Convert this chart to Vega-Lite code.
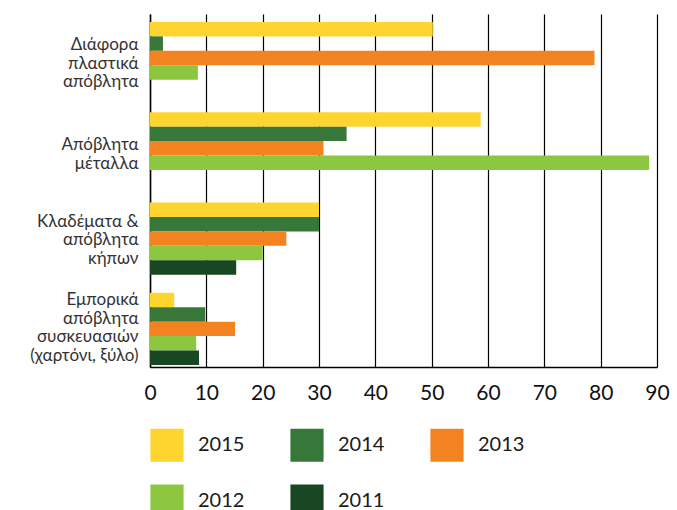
{
  "$schema": "https://vega.github.io/schema/vega-lite/v6.json",
  "width": 507,
  "height": 353,
  "autosize": "none",
  "padding": {"left": 150, "top": 14, "right": 20, "bottom": 143},
  "background": "white",
  "config": {"view": {"stroke": null}, "font": "Lato"},
  "data": {"values": [
    {"category": "Διάφορα πλαστικά απόβλητα", "year": "2015", "value": 50.2},
    {"category": "Διάφορα πλαστικά απόβλητα", "year": "2014", "value": 2.3},
    {"category": "Διάφορα πλαστικά απόβλητα", "year": "2013", "value": 78.9},
    {"category": "Διάφορα πλαστικά απόβλητα", "year": "2012", "value": 8.5},
    {"category": "Απόβλητα μέταλλα", "year": "2015", "value": 58.7},
    {"category": "Απόβλητα μέταλλα", "year": "2014", "value": 34.9},
    {"category": "Απόβλητα μέταλλα", "year": "2013", "value": 30.8},
    {"category": "Απόβλητα μέταλλα", "year": "2012", "value": 88.6},
    {"category": "Κλαδέματα & απόβλητα κήπων", "year": "2015", "value": 30.0},
    {"category": "Κλαδέματα & απόβλητα κήπων", "year": "2014", "value": 30.0},
    {"category": "Κλαδέματα & απόβλητα κήπων", "year": "2013", "value": 24.2},
    {"category": "Κλαδέματα & απόβλητα κήπων", "year": "2012", "value": 20.0},
    {"category": "Κλαδέματα & απόβλητα κήπων", "year": "2011", "value": 15.3},
    {"category": "Εμπορικά απόβλητα συσκευασιών (χαρτόνι, ξύλο)", "year": "2015", "value": 4.3},
    {"category": "Εμπορικά απόβλητα συσκευασιών (χαρτόνι, ξύλο)", "year": "2014", "value": 9.8},
    {"category": "Εμπορικά απόβλητα συσκευασιών (χαρτόνι, ξύλο)", "year": "2013", "value": 15.1},
    {"category": "Εμπορικά απόβλητα συσκευασιών (χαρτόνι, ξύλο)", "year": "2012", "value": 8.2},
    {"category": "Εμπορικά απόβλητα συσκευασιών (χαρτόνι, ξύλο)", "year": "2011", "value": 8.7}
  ]},
  "mark": {"type": "bar"},
  "encoding": {
    "y": {
      "field": "category",
      "type": "nominal",
      "sort": null,
      "scale": {"paddingInner": 0.2, "paddingOuter": 0.055, "align": 0.8},
      "axis": {
        "title": null,
        "labelExpr": "datum.value == 'Διάφορα πλαστικά απόβλητα' ? ['Διάφορα','πλαστικά','απόβλητα'] : datum.value == 'Απόβλητα μέταλλα' ? ['Απόβλητα','μέταλλα '] : datum.value == 'Κλαδέματα & απόβλητα κήπων' ? ['Κλαδέματα &','απόβλητα','κήπων'] : ['Εμπορικά','απόβλητα','συσκευασιών','(χαρτόνι, ξύλο)']",
        "labelOffset": {
          "condition": [
            {"test": "datum.value == 'Διάφορα πλαστικά απόβλητα'", "value": -13},
            {"test": "datum.value == 'Απόβλητα μέταλλα'", "value": -3},
            {"test": "datum.value == 'Κλαδέματα & απόβλητα κήπων'", "value": -17}
          ],
          "value": -29
        },
        "labelFontSize": 17,
        "labelColor": "#333333",
        "labelLineHeight": 18.7,
        "labelPadding": 12,
        "labelLimit": 200,
        "labelOverlap": false,
        "ticks": false,
        "domain": true,
        "domainColor": "#000000",
        "domainWidth": 1.5
      }
    },
    "yOffset": {
      "field": "year",
      "type": "nominal",
      "sort": ["2015", "2014", "2013", "2012", "2011"],
      "scale": {"domain": ["2015", "2014", "2013", "2012", "2011"], "paddingInner": 0, "paddingOuter": 0}
    },
    "x": {
      "field": "value",
      "type": "quantitative",
      "scale": {"domain": [0, 90], "nice": false},
      "axis": {
        "title": null,
        "values": [0, 10, 20, 30, 40, 50, 60, 70, 80, 90],
        "grid": true,
        "gridColor": "#000000",
        "gridOpacity": 1,
        "gridWidth": 1.2,
        "domainColor": "#000000",
        "domainWidth": 1.5,
        "ticks": false,
        "labelFontSize": 21,
        "labelColor": "#111111",
        "labelPadding": 15,
        "labelFlush": false
      }
    },
    "color": {
      "field": "year",
      "type": "nominal",
      "scale": {
        "domain": ["2015", "2014", "2013", "2012", "2011"],
        "range": ["#FED52F", "#37783A", "#F38321", "#8DC63F", "#1A4723"]
      },
      "legend": {
        "title": null,
        "orient": "none",
        "legendX": 0,
        "legendY": 414,
        "direction": "horizontal",
        "columns": 3,
        "symbolType": "square",
        "symbolSize": 1100,
        "symbolStrokeWidth": 0,
        "symbolOpacity": 1,
        "labelFontSize": 20,
        "labelColor": "#1a1a1a",
        "labelOffset": 14,
        "columnPadding": 45,
        "rowPadding": 22
      }
    }
  }
}
